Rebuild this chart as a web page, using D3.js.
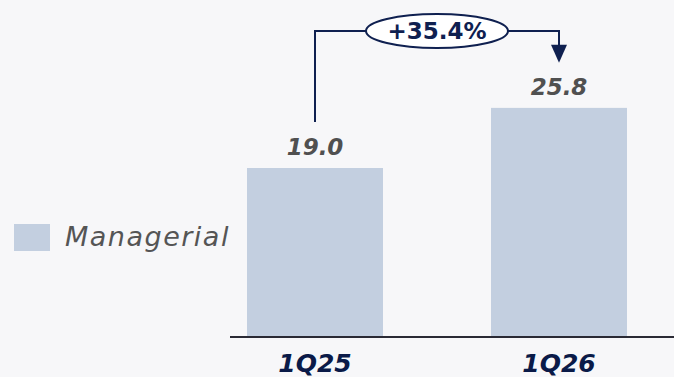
<!DOCTYPE html>
<html>
<head>
<meta charset="utf-8">
<script src="https://cdn.jsdelivr.net/npm/d3@7"></script>
<style>
  body { margin: 0; background: #f7f7f9; }
  #chart { width: 674px; height: 377px; }
</style>
</head>
<body>
<div id="chart"></div>
<script>
// Data
const categories = ["1Q25", "1Q26"];
const values = [19.0, 25.8];
const seriesName = "Managerial";
const changeLabel = "+35.4%";

const width = 674;
const height = 377;
const baseY = 336;
const font = "'DejaVu Sans', sans-serif";

const svg = d3.select("#chart")
    .append("svg")
    .attr("width", width)
    .attr("height", height)
    .style("background-color", "#f7f7f9");

// Scales
const x = d3.scaleBand()
    .domain(categories)
    .range([193, 681])
    .paddingInner(0.4426)
    .paddingOuter(0.2213);

const y = d3.scaleLinear()
    .domain([0, 19.0])
    .range([baseY, 168]);

// Bars
svg.selectAll("rect.bar")
    .data(values)
    .enter()
    .append("rect")
    .attr("class", "bar")
    .attr("x", (d, i) => x(categories[i]))
    .attr("y", d => y(d))
    .attr("width", x.bandwidth())
    .attr("height", d => baseY - y(d))
    .attr("fill", "#c3cfe0");

// Axis baseline
svg.append("line")
    .attr("x1", 230)
    .attr("x2", width)
    .attr("y1", baseY + 1)
    .attr("y2", baseY + 1)
    .attr("stroke", "#2a2a35")
    .attr("stroke-width", 2);

// Value labels
svg.selectAll("text.val")
    .data(values)
    .enter()
    .append("text")
    .attr("class", "val")
    .attr("x", (d, i) => x(categories[i]) + x.bandwidth() / 2)
    .attr("y", d => y(d) - 13)
    .attr("text-anchor", "middle")
    .attr("font-family", font)
    .attr("font-weight", "bold")
    .attr("font-style", "italic")
    .attr("font-size", 23)
    .attr("fill", "#505050")
    .text(d => d.toFixed(1));

// Category labels
svg.selectAll("text.cat")
    .data(categories)
    .enter()
    .append("text")
    .attr("class", "cat")
    .attr("x", d => x(d) + x.bandwidth() / 2)
    .attr("y", 372)
    .attr("text-anchor", "middle")
    .attr("font-family", font)
    .attr("font-weight", "bold")
    .attr("font-style", "italic")
    .attr("font-size", 25)
    .attr("fill", "#0a1a48")
    .text(d => d);

// Legend
svg.append("rect")
    .attr("x", 14)
    .attr("y", 224)
    .attr("width", 36)
    .attr("height", 27)
    .attr("fill", "#c3cfe0");

svg.append("text")
    .attr("x", 65)
    .attr("y", 246)
    .attr("font-family", font)
    .attr("font-style", "italic")
    .attr("font-size", 27)
    .attr("letter-spacing", 1.5)
    .attr("fill", "#555555")
    .text(seriesName);

// Growth connector
const navy = "#0f2050";
const x0 = x(categories[0]) + x.bandwidth() / 2;
const x1 = x(categories[1]) + x.bandwidth() / 2;
const topY = 31;
const cx = 437, rx = 71, ry = 17;

svg.append("path")
    .attr("d", `M${x0},${y(values[0]) - 46} V${topY} H${cx - rx}`)
    .attr("fill", "none")
    .attr("stroke", navy)
    .attr("stroke-width", 2);

svg.append("path")
    .attr("d", `M${cx + rx},${topY} H${x1} V${y(values[1]) - 62}`)
    .attr("fill", "none")
    .attr("stroke", navy)
    .attr("stroke-width", 2);

svg.append("path")
    .attr("d", `M${x1 - 8},${y(values[1]) - 63} L${x1 + 8},${y(values[1]) - 63} L${x1},${y(values[1]) - 45} Z`)
    .attr("fill", navy);

svg.append("ellipse")
    .attr("cx", cx)
    .attr("cy", topY)
    .attr("rx", rx)
    .attr("ry", ry)
    .attr("fill", "#ffffff")
    .attr("stroke", navy)
    .attr("stroke-width", 2);

svg.append("text")
    .attr("x", cx)
    .attr("y", topY + 8)
    .attr("text-anchor", "middle")
    .attr("font-family", font)
    .attr("font-weight", "bold")
    .attr("font-size", 23)
    .attr("fill", navy)
    .text(changeLabel);
</script>
</body>
</html>
